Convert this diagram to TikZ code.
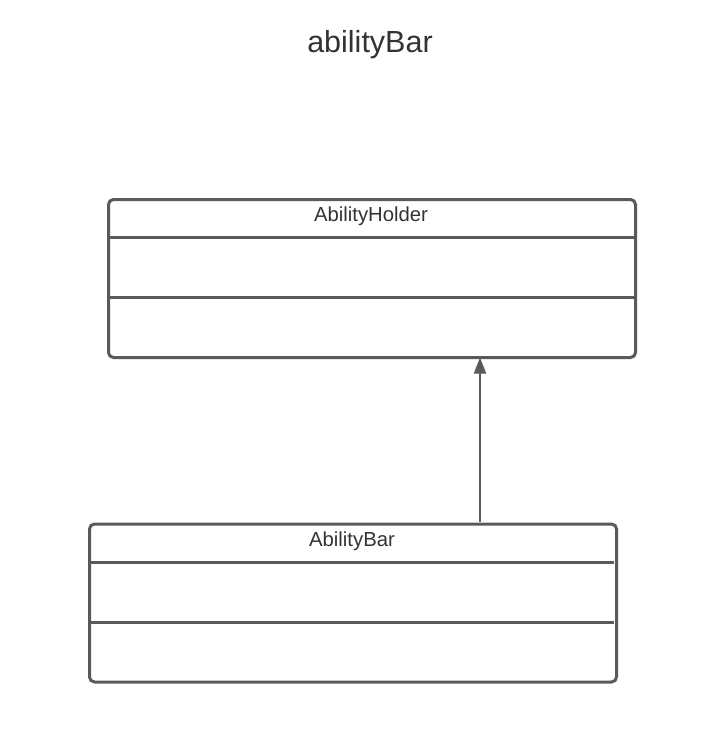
\documentclass[tikz,border=0pt]{standalone}
\usepackage{fontspec}
\setmainfont{Liberation Sans}
\usetikzlibrary{arrows.meta}
\definecolor{lineg}{HTML}{5A5A5A}
\definecolor{textg}{HTML}{333333}
\begin{document}
\begin{tikzpicture}[x=1pt,y=-1pt,
  classbox/.style={draw=lineg,line width=3pt,rounded corners=5pt,minimum width=527pt,minimum height=158pt,inner sep=0pt,anchor=north west},
  divider/.style={draw=lineg,line width=3pt},
  cname/.style={text=textg,font=\fontsize{20.3}{22}\selectfont,anchor=center},
  inherit/.style={draw=lineg,line width=2pt,-{Triangle[length=16pt,width=12pt]}}]
\useasboundingbox (0,0) rectangle (705,748);
\node[text=textg,font=\fontsize{30.5}{34}\selectfont] (title) at (370,45) {abilityBar};
% AbilityHolder
\node[classbox] (holder) at (107,198) {};
\node[cname] (holdername) at (371,216) {AbilityHolder};
\coordinate (h1l) at (107,237.5); \coordinate (h1r) at (634,237.5);
\coordinate (h2l) at (107,297.5); \coordinate (h2r) at (634,297.5);
\draw[divider] (h1l) -- (h1r);
\draw[divider] (h2l) -- (h2r);
% AbilityBar
\node[classbox] (bar) at (88,522.5) {};
\node[cname] (barname) at (352,541) {AbilityBar};
\coordinate (b1l) at (88,562.5); \coordinate (b1r) at (614,562.5);
\coordinate (b2l) at (88,622.5); \coordinate (b2r) at (614,622.5);
\draw[divider] (b1l) -- (b1r);
\draw[divider] (b2l) -- (b2r);
% inheritance
\coordinate (arrS) at (480,522);
\coordinate (arrE) at (480,357.5);
\draw[inherit] (arrS) -- (arrE);
\end{tikzpicture}
\end{document}
